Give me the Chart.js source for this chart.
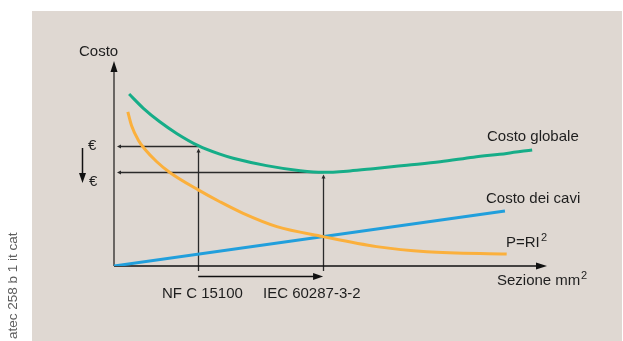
<!DOCTYPE html>
<html>
<head>
<meta charset="utf-8">
<script src="https://cdn.jsdelivr.net/npm/chart.js@4"></script>
<style>
  html, body { margin: 0; padding: 0; background: #fff; }
  canvas { display: block; }
</style>
</head>
<body>
<canvas id="chart" width="623" height="341"></canvas>
<script>
// sezione (x) and costo (y), both on a 0..100 scale
const globaleX = [3.5, 6.8, 10.6, 14.5, 19.5, 24.5, 27.6, 35.3, 43.1, 48.4, 54.6, 60.0, 67.8, 75.5, 83.2, 90.9, 96.8];
const globaleY = [84.3, 77.3, 70.7, 65.0, 59.0, 54.8, 52.8, 49.2, 46.7, 45.9, 46.6, 47.7, 49.4, 51.1, 53.3, 55.2, 56.9];

const perditeX = [3.2, 4.1, 5.6, 7.2, 9.9, 13.0, 19.5, 24.5, 29.9, 37.7, 48.4, 60.8, 72.4, 90.9];
const perditeY = [75.6, 68.6, 61.8, 57.1, 51.1, 45.7, 37.3, 31.5, 25.8, 19.3, 14.4, 9.5, 7.0, 5.9];

const caviX = [0, 90.5];
const caviY = [0, 27.0];

// the two standards and where they meet the global cost curve
const refNames = ['NF C 15100', 'IEC 60287-3-2'];
const refX = [19.5, 48.4];
const refY = [59.0, 45.9];

const toPoints = (xs, ys) => xs.map((x, i) => ({ x: x, y: ys[i] }));

const FONT = '15px "Liberation Sans", Arial, sans-serif';
const INK = '#1e1e1e';

function arrowHead(ctx, x, y, dir, len, half) {
    // dir: 'left' | 'right' | 'up' | 'down'
    ctx.beginPath();
    ctx.moveTo(x, y);
    if (dir === 'left') { ctx.lineTo(x + len, y - half); ctx.lineTo(x + len, y + half); }
    if (dir === 'right') { ctx.lineTo(x - len, y - half); ctx.lineTo(x - len, y + half); }
    if (dir === 'up') { ctx.lineTo(x - half, y + len); ctx.lineTo(x + half, y + len); }
    if (dir === 'down') { ctx.lineTo(x - half, y - len); ctx.lineTo(x + half, y - len); }
    ctx.closePath();
    ctx.fill();
}

function line(ctx, x1, y1, x2, y2) {
    ctx.beginPath();
    ctx.moveTo(x1, y1);
    ctx.lineTo(x2, y2);
    ctx.stroke();
}

const backdrop = {
    id: 'backdrop',
    beforeDraw(chart) {
        const ctx = chart.ctx;
        ctx.save();
        ctx.fillStyle = '#ffffff';
        ctx.fillRect(0, 0, chart.width, chart.height);
        ctx.fillStyle = '#dfd8d2';
        ctx.fillRect(32, 11, chart.width - 33, chart.height - 11);
        ctx.restore();
    },
    beforeDatasetsDraw(chart) {
        const ctx = chart.ctx;
        const sx = chart.scales.x, sy = chart.scales.y;
        const x0 = sx.getPixelForValue(0), y0 = sy.getPixelForValue(0);
        ctx.save();

        // reference lines
        ctx.strokeStyle = '#2a2a2a';
        ctx.fillStyle = '#2a2a2a';
        ctx.lineWidth = 1.3;
        refX.forEach((rx, i) => {
            const px = Math.round(sx.getPixelForValue(rx)) + 0.5;
            const py = Math.round(sy.getPixelForValue(refY[i])) + 0.5;
            line(ctx, x0 + 6, py, px, py);
            arrowHead(ctx, x0 + 3, py, 'left', 4, 2);
            line(ctx, px, y0 + 5, px, py + 5);
            arrowHead(ctx, px, py + 2, 'up', 4, 2);
        });

        // arrow between the two standards, under the x axis
        const ax1 = sx.getPixelForValue(refX[0]), ax2 = sx.getPixelForValue(refX[1]);
        ctx.strokeStyle = '#111';
        ctx.fillStyle = '#111';
        ctx.lineWidth = 1.5;
        line(ctx, ax1, y0 + 10.5, ax2 - 8, y0 + 10.5);
        arrowHead(ctx, ax2, y0 + 10.5, 'right', 10, 3.5);

        // down arrow by the euro signs
        line(ctx, 82.5, 148, 82.5, 175);
        arrowHead(ctx, 82.5, 183, 'down', 10, 3.5);

        // axes
        ctx.strokeStyle = '#6a6663';
        ctx.lineWidth = 2;
        line(ctx, x0, y0, x0, 70);
        ctx.fillStyle = '#111';
        arrowHead(ctx, x0, 61, 'up', 11, 3.5);
        ctx.strokeStyle = '#111';
        ctx.lineWidth = 1.5;
        line(ctx, x0, y0, 538, y0);
        arrowHead(ctx, 547, y0, 'right', 11, 3.5);
        ctx.restore();
    },
    afterDatasetsDraw(chart) {
        const ctx = chart.ctx;
        ctx.save();
        ctx.fillStyle = INK;
        ctx.font = FONT;
        ctx.textBaseline = 'middle';
        ctx.textAlign = 'left';
        ctx.fillText('Costo', 79, 52);
        ctx.fillText('€', 88, 146);
        ctx.fillText('€', 89, 182);
        ctx.fillText('Costo globale', 487, 137);
        ctx.fillText('Costo dei cavi', 486, 199);
        ctx.fillText('P=RI', 506, 243);
        ctx.fillText('Sezione mm', 497, 281);
        ctx.fillText(refNames[0], 162, 294);
        ctx.fillText(refNames[1], 263, 294);
        ctx.font = '11px "Liberation Sans", Arial, sans-serif';
        ctx.fillText('2', 541, 238);
        ctx.fillText('2', 581, 276);

        // side caption
        ctx.fillStyle = '#5e5e5e';
        ctx.font = '13.5px "Liberation Sans", Arial, sans-serif';
        ctx.translate(17, 339);
        ctx.rotate(-Math.PI / 2);
        ctx.textBaseline = 'alphabetic';
        ctx.fillText('atec 258 b 1 it cat', 0, 0);
        ctx.restore();
    }
};

const curve = (pts, color) => ({
    data: pts,
    borderColor: color,
    borderWidth: 3,
    pointRadius: 0,
    cubicInterpolationMode: 'monotone',
    fill: false
});

new Chart(document.getElementById('chart'), {
    type: 'line',
    data: {
        datasets: [
            curve(toPoints(perditeX, perditeY), '#fbb03c'),
            curve(toPoints(caviX, caviY), '#219fdc'),
            curve(toPoints(globaleX, globaleY), '#16ad88')
        ]
    },
    options: {
        responsive: false,
        animation: false,
        devicePixelRatio: 1,
        layout: { padding: { left: 114, right: 77, top: 62, bottom: 75 } },
        plugins: { legend: { display: false }, tooltip: { enabled: false } },
        scales: {
            x: { type: 'linear', min: 0, max: 100, display: false },
            y: { type: 'linear', min: 0, max: 100, display: false }
        }
    },
    plugins: [backdrop]
});
</script>
</body>
</html>
